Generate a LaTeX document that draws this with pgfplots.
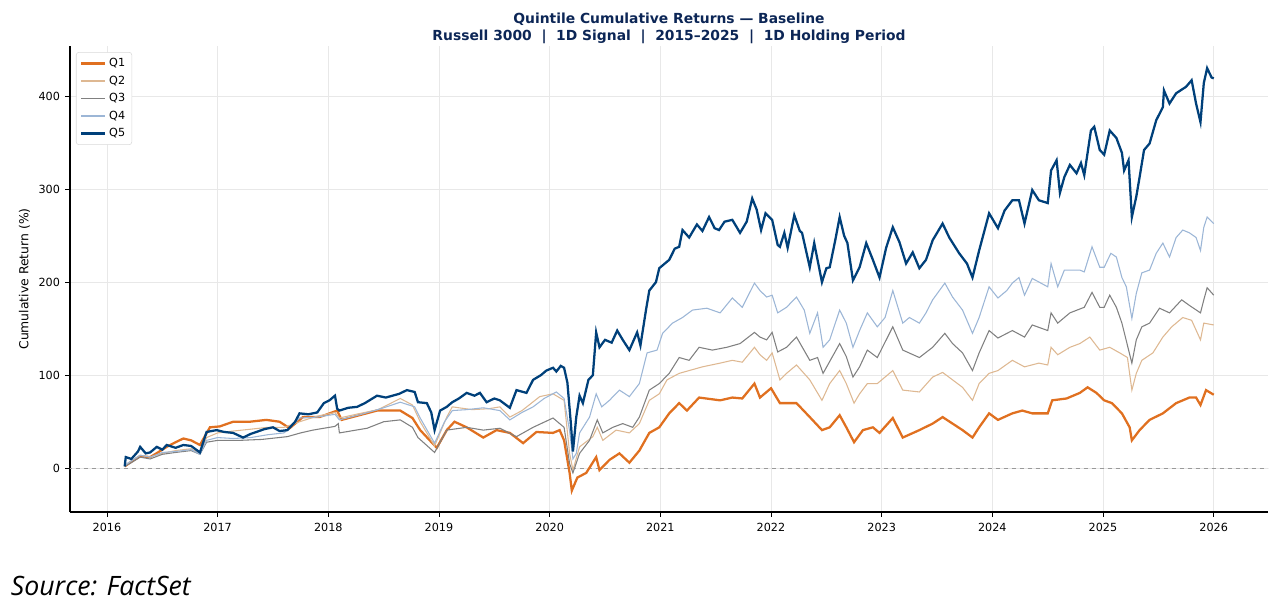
\documentclass[border=0pt]{standalone}
\usepackage{fontspec}
\setmainfont{DejaVu Sans}
\newfontfamily\srcfont{Open Sans}
\usepackage{pgfplots}
\pgfplotsset{compat=1.18}
\definecolor{cQ1}{RGB}{224,112,32}
\definecolor{cQ2}{RGB}{222,184,146}
\definecolor{cQ3}{RGB}{128,128,128}
\definecolor{cQ4}{RGB}{156,182,214}
\definecolor{cQ5}{RGB}{0,64,122}
\definecolor{ttl}{RGB}{12,38,86}
\begin{document}
\begin{tikzpicture}
\begin{axis}[
  name=ax,
  scale only axis,
  width=898.5pt, height=349.5pt,
  xmin=2015.666, xmax=2026.49,
  ymin=-47, ymax=453.8,
  axis x line*=bottom, axis y line*=left,
  axis line style={black, line width=0.8pt},
  xtick={2016,2017,...,2026},
  ytick={0,100,200,300,400},
  x tick label style={/pgf/number format/1000 sep={}, yshift=-1.5pt},
  y tick label style={xshift=-0.5pt},
  /pgf/number format/assume math mode=true,
  tick label style={font=\fontsize{8.4}{10}\selectfont},
  tick align=outside, tick style={black, line width=0.6pt},
  major tick length=3.5pt,
  grid=major, grid style={gray!18, line width=0.5pt},
  ylabel={Cumulative Return (\%)},
  ylabel style={font=\fontsize{9.3}{11}\selectfont, at={(ticklabel cs:0.5)}, yshift=-0.5pt},
  legend style={at={(0.005,0.987)}, anchor=north west, font=\fontsize{8.4}{10}\selectfont,
    draw=gray!30, rounded corners=2pt, inner xsep=3pt, inner ysep=2.5pt, row sep=1.4pt},
  legend image code/.code={\draw[#1] (0pt,0pt) -- (18pt,0pt);},
  legend cell align=left,
  clip=true,
]
\addplot[gray!80, dashed, line width=0.5pt, forget plot] coordinates {(2015.5,0) (2026.6,0)};
\addplot[cQ1, line width=1.7pt] coordinates {
(2016.16,2) (2016.22,7) (2016.30,13) (2016.39,12) (2016.46,17) (2016.54,23) (2016.62,28) (2016.69,32) (2016.76,30) (2016.84,25) (2016.93,44) (2017.02,45) (2017.14,50) (2017.29,50) (2017.44,52) (2017.56,50) (2017.65,43) (2017.77,55) (2017.92,55) (2018.08,62) (2018.12,52) (2018.28,57) (2018.44,62) (2018.65,62) (2018.76,54) (2018.83,41) (2018.94,27) (2018.98,22) (2019.07,41) (2019.14,50) (2019.25,44) (2019.40,33) (2019.52,41) (2019.64,38) (2019.76,27) (2019.88,39) (2020.03,38) (2020.09,41) (2020.13,30) (2020.18,-5) (2020.20,-24) (2020.25,-10) (2020.33,-5) (2020.42,12) (2020.45,-2) (2020.54,9) (2020.63,16) (2020.72,6) (2020.81,19) (2020.90,38) (2020.99,44) (2021.08,59) (2021.17,70) (2021.24,62) (2021.35,76) (2021.54,73) (2021.65,76) (2021.74,75) (2021.85,91) (2021.90,76) (2022.00,86) (2022.08,70) (2022.23,70) (2022.35,55) (2022.46,41) (2022.53,44) (2022.62,57) (2022.68,44) (2022.75,28) (2022.83,41) (2022.92,44) (2022.98,38) (2023.10,54) (2023.19,33) (2023.34,41) (2023.46,48) (2023.55,55) (2023.64,48) (2023.73,41) (2023.82,33) (2023.88,44) (2023.97,59) (2024.05,52) (2024.18,59) (2024.27,62) (2024.36,59) (2024.50,59) (2024.54,73) (2024.67,75) (2024.79,81) (2024.86,87) (2024.94,81) (2025.01,73) (2025.08,70) (2025.17,59) (2025.24,44) (2025.26,30) (2025.33,41) (2025.42,52) (2025.54,59) (2025.66,70) (2025.78,76) (2025.84,76) (2025.88,68) (2025.93,84) (2026.00,79)
};
\addlegendentry{Q1}
\addplot[cQ2, line width=0.8pt] coordinates {
(2016.16,3) (2016.22,8) (2016.30,14) (2016.39,12) (2016.50,16) (2016.62,19) (2016.76,21) (2016.84,16) (2016.90,33) (2017.00,38) (2017.14,40) (2017.30,42) (2017.45,44) (2017.60,44) (2017.74,50) (2017.90,56) (2018.06,60) (2018.10,54) (2018.25,58) (2018.45,63) (2018.65,75) (2018.76,68) (2018.83,50) (2018.96,24) (2019.07,55) (2019.12,66) (2019.30,63) (2019.45,64) (2019.55,66) (2019.64,55) (2019.75,62) (2019.91,77) (2020.03,80) (2020.13,73) (2020.18,16) (2020.21,-2) (2020.27,23) (2020.39,34) (2020.43,44) (2020.48,30) (2020.60,41) (2020.72,38) (2020.81,48) (2020.90,73) (2020.99,80) (2021.06,95) (2021.17,102) (2021.26,105) (2021.38,109) (2021.54,113) (2021.65,116) (2021.74,114) (2021.85,130) (2021.90,122) (2021.96,116) (2022.01,124) (2022.08,95) (2022.14,102) (2022.23,111) (2022.35,95) (2022.46,73) (2022.53,91) (2022.62,105) (2022.68,91) (2022.75,70) (2022.80,80) (2022.87,91) (2022.96,91) (2023.10,105) (2023.19,84) (2023.34,82) (2023.46,98) (2023.55,103) (2023.64,95) (2023.73,87) (2023.82,73) (2023.88,91) (2023.97,102) (2024.05,105) (2024.18,116) (2024.29,109) (2024.42,113) (2024.50,111) (2024.53,130) (2024.59,122) (2024.70,130) (2024.79,134) (2024.88,141) (2024.97,127) (2025.06,130) (2025.15,124) (2025.22,119) (2025.26,84) (2025.30,102) (2025.35,116) (2025.45,124) (2025.54,141) (2025.62,152) (2025.72,162) (2025.80,159) (2025.88,138) (2025.91,156) (2026.00,154)
};
\addlegendentry{Q2}
\addplot[cQ3, line width=0.8pt] coordinates {
(2016.16,2) (2016.22,6) (2016.30,12) (2016.39,10) (2016.50,15) (2016.62,17) (2016.76,19) (2016.84,15) (2016.90,28) (2017.00,30) (2017.20,30) (2017.40,31) (2017.63,34) (2017.75,38) (2017.86,41) (2018.06,45) (2018.09,48) (2018.10,38) (2018.25,41) (2018.35,43) (2018.50,50) (2018.65,52) (2018.76,44) (2018.81,33) (2018.96,17) (2019.07,41) (2019.25,44) (2019.40,41) (2019.55,43) (2019.70,34) (2019.85,44) (2020.03,54) (2020.13,44) (2020.18,5) (2020.21,-5) (2020.27,16) (2020.36,30) (2020.43,52) (2020.48,38) (2020.57,44) (2020.66,48) (2020.75,44) (2020.81,55) (2020.90,84) (2020.99,91) (2021.08,102) (2021.17,119) (2021.26,116) (2021.35,130) (2021.47,127) (2021.60,130) (2021.72,134) (2021.85,146) (2021.90,141) (2021.96,138) (2022.01,146) (2022.06,125) (2022.14,130) (2022.23,141) (2022.35,116) (2022.42,119) (2022.47,102) (2022.62,134) (2022.68,120) (2022.74,98) (2022.80,109) (2022.87,127) (2022.96,119) (2023.10,152) (2023.19,127) (2023.34,119) (2023.46,130) (2023.57,145) (2023.64,134) (2023.73,124) (2023.82,105) (2023.88,124) (2023.97,148) (2024.05,140) (2024.18,148) (2024.29,141) (2024.36,154) (2024.50,148) (2024.53,167) (2024.59,156) (2024.70,167) (2024.83,173) (2024.90,189) (2024.97,173) (2025.01,173) (2025.06,186) (2025.12,173) (2025.17,156) (2025.26,113) (2025.30,138) (2025.35,152) (2025.42,156) (2025.51,172) (2025.60,167) (2025.71,181) (2025.78,175) (2025.88,167) (2025.91,181) (2025.94,194) (2026.00,186)
};
\addlegendentry{Q3}
\addplot[cQ4, line width=0.8pt] coordinates {
(2016.16,3) (2016.22,8) (2016.30,14) (2016.39,12) (2016.50,17) (2016.62,18) (2016.76,20) (2016.84,15) (2016.90,30) (2017.00,33) (2017.14,32) (2017.30,33) (2017.45,36) (2017.60,38) (2017.74,54) (2017.90,55) (2018.06,58) (2018.10,52) (2018.30,58) (2018.50,65) (2018.65,71) (2018.78,66) (2018.83,54) (2018.96,27) (2019.05,50) (2019.12,62) (2019.25,63) (2019.40,65) (2019.55,62) (2019.64,52) (2019.75,60) (2019.85,66) (2019.95,75) (2020.06,82) (2020.13,75) (2020.18,40) (2020.21,10) (2020.24,16) (2020.27,38) (2020.36,55) (2020.42,80) (2020.47,66) (2020.54,73) (2020.63,84) (2020.72,77) (2020.81,91) (2020.88,124) (2020.97,127) (2021.02,145) (2021.11,156) (2021.20,162) (2021.29,170) (2021.42,172) (2021.54,167) (2021.65,183) (2021.74,173) (2021.85,199) (2021.90,191) (2021.96,184) (2022.01,186) (2022.06,167) (2022.14,173) (2022.23,184) (2022.30,170) (2022.35,145) (2022.42,167) (2022.47,130) (2022.53,138) (2022.62,170) (2022.68,156) (2022.74,130) (2022.80,148) (2022.87,167) (2022.96,152) (2023.03,162) (2023.10,191) (2023.19,156) (2023.25,162) (2023.34,156) (2023.40,167) (2023.46,181) (2023.57,199) (2023.64,184) (2023.73,170) (2023.82,145) (2023.88,162) (2023.97,195) (2024.05,183) (2024.13,191) (2024.18,199) (2024.24,205) (2024.29,186) (2024.36,204) (2024.50,195) (2024.53,220) (2024.59,195) (2024.65,213) (2024.79,213) (2024.83,211) (2024.90,238) (2024.97,216) (2025.01,216) (2025.07,231) (2025.12,227) (2025.17,205) (2025.21,195) (2025.26,161) (2025.30,188) (2025.35,210) (2025.42,213) (2025.48,231) (2025.54,242) (2025.60,227) (2025.66,248) (2025.72,256) (2025.78,253) (2025.84,248) (2025.88,234) (2025.91,259) (2025.94,270) (2026.00,263)
};
\addlegendentry{Q4}
\addplot[cQ5, line width=1.7pt] coordinates {
(2016.16,2) (2016.17,12) (2016.22,10) (2016.28,18) (2016.30,23) (2016.35,16) (2016.39,17) (2016.45,23) (2016.50,20) (2016.54,25) (2016.62,22) (2016.69,25) (2016.76,24) (2016.84,17) (2016.90,39) (2016.99,41) (2017.06,39) (2017.14,38) (2017.23,33) (2017.30,37) (2017.35,39) (2017.42,42) (2017.50,44) (2017.56,40) (2017.63,41) (2017.70,50) (2017.74,59) (2017.82,58) (2017.90,60) (2017.96,70) (2018.01,73) (2018.06,78) (2018.08,64) (2018.10,62) (2018.18,65) (2018.26,66) (2018.33,70) (2018.44,78) (2018.52,76) (2018.58,78) (2018.64,80) (2018.71,84) (2018.78,82) (2018.81,71) (2018.89,70) (2018.93,60) (2018.96,41) (2019.01,62) (2019.07,66) (2019.12,71) (2019.18,75) (2019.25,81) (2019.32,78) (2019.37,81) (2019.43,71) (2019.50,75) (2019.55,73) (2019.64,65) (2019.70,84) (2019.79,81) (2019.85,95) (2019.92,100) (2019.97,105) (2020.03,108) (2020.06,104) (2020.10,110) (2020.13,108) (2020.16,92) (2020.19,50) (2020.21,18) (2020.24,55) (2020.27,78) (2020.30,70) (2020.35,95) (2020.39,100) (2020.42,146) (2020.45,130) (2020.50,138) (2020.56,135) (2020.61,148) (2020.66,138) (2020.72,127) (2020.79,146) (2020.82,132) (2020.87,170) (2020.90,191) (2020.96,200) (2020.99,215) (2021.04,220) (2021.08,224) (2021.13,236) (2021.17,238) (2021.20,256) (2021.26,248) (2021.33,262) (2021.38,255) (2021.44,270) (2021.49,258) (2021.53,256) (2021.58,265) (2021.65,267) (2021.72,253) (2021.78,265) (2021.83,290) (2021.87,278) (2021.91,256) (2021.95,274) (2022.01,267) (2022.06,240) (2022.08,238) (2022.12,253) (2022.15,237) (2022.21,272) (2022.26,255) (2022.28,253) (2022.35,216) (2022.39,242) (2022.46,200) (2022.50,215) (2022.53,216) (2022.58,245) (2022.62,270) (2022.66,250) (2022.69,242) (2022.74,202) (2022.80,216) (2022.86,242) (2022.92,224) (2022.98,205) (2023.04,237) (2023.10,259) (2023.16,243) (2023.22,220) (2023.28,232) (2023.34,215) (2023.40,224) (2023.46,245) (2023.55,263) (2023.61,248) (2023.70,231) (2023.77,220) (2023.82,205) (2023.88,234) (2023.97,274) (2024.05,258) (2024.11,277) (2024.18,288) (2024.24,288) (2024.29,263) (2024.36,299) (2024.42,288) (2024.50,285) (2024.53,320) (2024.58,331) (2024.61,296) (2024.65,313) (2024.70,326) (2024.76,317) (2024.80,328) (2024.83,315) (2024.89,363) (2024.92,367) (2024.97,342) (2025.01,337) (2025.06,363) (2025.12,355) (2025.17,339) (2025.19,320) (2025.23,331) (2025.26,270) (2025.30,292) (2025.33,313) (2025.37,342) (2025.42,349) (2025.48,374) (2025.54,388) (2025.55,406) (2025.60,392) (2025.66,403) (2025.75,410) (2025.80,417) (2025.84,392) (2025.88,372) (2025.91,414) (2025.94,430) (2025.98,420) (2026.00,419)
};
\addlegendentry{Q5}
\coordinate (sw) at (rel axis cs:0,0);
\coordinate (ne) at (rel axis cs:1,1);
\coordinate (tt) at (rel axis cs:0.5,1);
\end{axis}
\node[anchor=south, text=ttl, font=\bfseries\fontsize{10.4}{12.8}\selectfont, align=center, inner sep=0pt]
  at ([yshift=1.5pt]tt) {Quintile Cumulative Returns — Baseline\\Russell 3000~~|~~1D Signal~~|~~2015–2025~~|~~1D Holding Period};
\node[anchor=base west, inner sep=0pt, font=\srcfont\itshape\fontsize{20}{22}\selectfont]
  at ([xshift=-44.5pt,yshift=-62.5pt]sw) {Source: FactSet};
\pgfresetboundingbox
\path ([xshift=-52.5pt,yshift=-69.75pt]sw) rectangle ([xshift=8.25pt,yshift=34.5pt]ne);
\end{tikzpicture}
\end{document}
